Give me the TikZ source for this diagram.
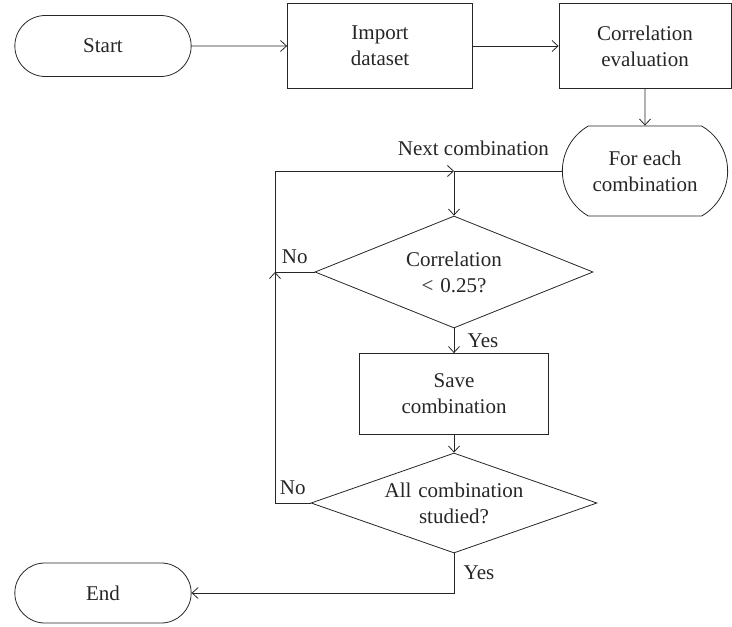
\documentclass[tikz,border=0pt]{standalone}
\usepackage{fontspec}
\setmainfont{Liberation Serif}
\usetikzlibrary{shapes,arrows.meta}
\tikzstyle{decision} = [diamond, draw, aspect=2.8,
    text width=140pt, text centered, inner sep=0pt]
\tikzstyle{block} = [rectangle, draw,
    text width=150pt, text centered, minimum height=85pt]
\tikzstyle{line} = [draw, -{Straight Barb[length=6pt,width=11pt]}]
\tikzstyle{cloud} = [draw, rounded rectangle, align=center,
    minimum width=183pt, minimum height=61pt]

\begin{document}
\begin{tikzpicture}[x=1pt, y=1pt, auto, color=black!85, line width=0.8pt,
    font=\fontsize{21}{26}\selectfont]
    \useasboundingbox (0,0) rectangle (732,-627);
    % Place nodes
    \node [cloud] (start) at (103,-46) {Start};
    \node [block, right of=start, node distance=277pt, minimum width=185pt] (import) {Import\\dataset};
    \node [block, right of=import, node distance=265pt, minimum width=172pt] (correval) {Correlation\\evaluation};
    \node [cloud, below of=correval, node distance=125pt, minimum width=172pt,
        minimum height=90pt, rounded rectangle arc length=120] (foreach) {For each\\combination};
    \node [decision, minimum width=278pt, minimum height=112pt] (dec1) at (454,-272) {Correlation\\< 0.25?};
    \node [block, below of=dec1, node distance=122pt, minimum width=189pt, minimum height=81pt] (save) {Save\\combination};
    \node [decision, below of=save, node distance=109pt, minimum width=286pt, minimum height=100pt] (dec2) {All combination\\studied?};
    \node [cloud, minimum height=60pt] (end) at (103,-593) {End};
    \coordinate (join) at (dec1 |- foreach);
    \coordinate (noup) at (275,-272);
    \coordinate (nodown) at (noup |- dec2);
    % Draw edges
    \path [line] (start) -- (import);
    \path [line] (import) -- (correval);
    \path [line] (correval) -- (foreach);
    \path [line] (foreach) -| node [pos=0.41, above=12pt] {Next combination} (dec1);
    \path [line] (dec1.west) -- node [above=5pt] {No} (noup) |- (join);
    \path [line] (dec1) -- node [right=10pt] {Yes} (save);
    \path [line] (save) -- (dec2);
    \path [line] (dec2.west) -- node [above=5pt] {No} (nodown) -- (noup);
    \path [line] (dec2) |- node [near start, right=6pt] {Yes} (end);
\end{tikzpicture}
\end{document}
